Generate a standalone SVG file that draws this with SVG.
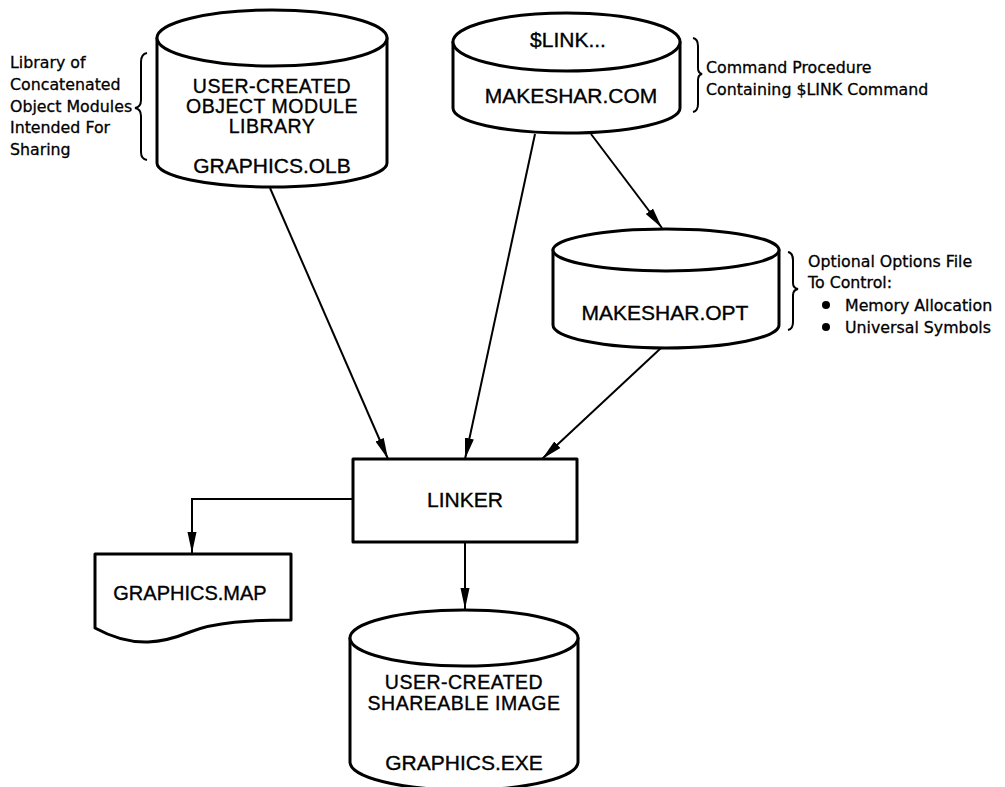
<svg xmlns="http://www.w3.org/2000/svg" width="1005" height="787" viewBox="0 0 1005 787">
<style>
.shape{fill:#fff;stroke:#000;stroke-width:3;stroke-linejoin:round}
.lbl{font-family:"Liberation Sans",Arial,sans-serif;font-size:21px;fill:#000;stroke:#000;stroke-width:0.35;text-anchor:middle}
.tight{font-size:19.5px;letter-spacing:0.5px}
.note{font-family:"DejaVu Sans",sans-serif;font-size:15.8px;fill:#000;stroke:#000;stroke-width:0.3}
.brace{fill:none;stroke:#000;stroke-width:2}
.conn{fill:none;stroke:#000;stroke-width:2}
</style>
<defs>
<marker id="arr" markerWidth="22" markerHeight="12" refX="21" refY="6" orient="auto" markerUnits="userSpaceOnUse">
<path d="M0,1.5 L21,6 L0,10.5 Z" fill="#000"/>
</marker>
</defs>
<rect width="1005" height="787" fill="#fff"/>

<g id="connectors">
<line class="conn" x1="270" y1="188" x2="388" y2="459" marker-end="url(#arr)"/>
<line class="conn" x1="535" y1="134" x2="465" y2="459" marker-end="url(#arr)"/>
<line class="conn" x1="591" y1="134" x2="662" y2="228" marker-end="url(#arr)"/>
<line class="conn" x1="661" y1="348" x2="542" y2="459" marker-end="url(#arr)"/>
<polyline class="conn" points="353,499 192,499 192,553" marker-end="url(#arr)"/>
<line class="conn" x1="465" y1="542" x2="465" y2="609" marker-end="url(#arr)"/>
</g>

<g id="graphics-olb">
<path class="shape" d="M157,38 V163 A115,24 0 0 0 387,163 V38 Z"/>
<ellipse class="shape" cx="272" cy="38" rx="115" ry="28"/>
<text class="lbl tight" x="272" y="93">USER-CREATED</text>
<text class="lbl tight" x="272" y="113">OBJECT MODULE</text>
<text class="lbl tight" x="272" y="133">LIBRARY</text>
<text class="lbl" x="272" y="173">GRAPHICS.OLB</text>
</g>

<g id="note-olb">
<path class="brace" d="M147,53 Q141,54 141,62 V100 Q141,107 135,108 Q141,109 141,116 V152 Q141,159 147,160"/>
<text class="note" x="10" y="68">Library of</text>
<text class="note" x="10" y="90">Concatenated</text>
<text class="note" x="10" y="112">Object Modules</text>
<text class="note" x="10" y="133">Intended For</text>
<text class="note" x="10" y="155">Sharing</text>
</g>

<g id="makeshar-com">
<path class="shape" d="M453,42 V108 A113.5,25 0 0 0 680,108 V42 Z"/>
<ellipse class="shape" cx="566.5" cy="42" rx="113.5" ry="29"/>
<text class="lbl" x="568" y="47">$LINK...</text>
<text class="lbl" x="571" y="103">MAKESHAR.COM</text>
</g>

<g id="note-com">
<path class="brace" d="M693,38 Q698,39 698,46 V68 Q698,73 702,74 Q698,75 698,80 V104 Q698,111 693,112"/>
<text class="note" x="706" y="73">Command Procedure</text>
<text class="note" x="706" y="95">Containing $LINK Command</text>
</g>

<g id="makeshar-opt">
<path class="shape" d="M553,250 V325 A113,23 0 0 0 779,325 V250 Z"/>
<ellipse class="shape" cx="666" cy="250" rx="113" ry="21"/>
<text class="lbl" x="665" y="320">MAKESHAR.OPT</text>
</g>

<g id="note-opt">
<path class="brace" d="M788,252 Q793,253 793,260 V283 Q793,288 798,289 Q793,290 793,295 V322 Q793,329 788,330"/>
<text class="note" x="808" y="267">Optional Options File</text>
<text class="note" x="808" y="288">To Control:</text>
<circle cx="826" cy="305" r="4"/>
<text class="note" x="845" y="311">Memory Allocation</text>
<circle cx="826" cy="327" r="4"/>
<text class="note" x="845" y="333">Universal Symbols</text>
</g>

<g id="linker">
<rect class="shape" x="353" y="459" width="224" height="83"/>
<text class="lbl" x="465" y="507">LINKER</text>
</g>

<g id="graphics-map">
<path class="shape" d="M95,554 H291 V620 C250,620 215,622 190,632 C165,642 135,650 95,628 Z"/>
<text class="lbl" x="190" y="600" style="font-size:20px">GRAPHICS.MAP</text>
</g>

<g id="graphics-exe">
<path class="shape" d="M350,638 V762 A114,28 0 0 0 578,762 V638 Z"/>
<ellipse class="shape" cx="464" cy="638" rx="114" ry="28"/>
<text class="lbl tight" x="464" y="689">USER-CREATED</text>
<text class="lbl tight" x="464" y="710">SHAREABLE IMAGE</text>
<text class="lbl" x="464" y="770">GRAPHICS.EXE</text>
</g>
</svg>
